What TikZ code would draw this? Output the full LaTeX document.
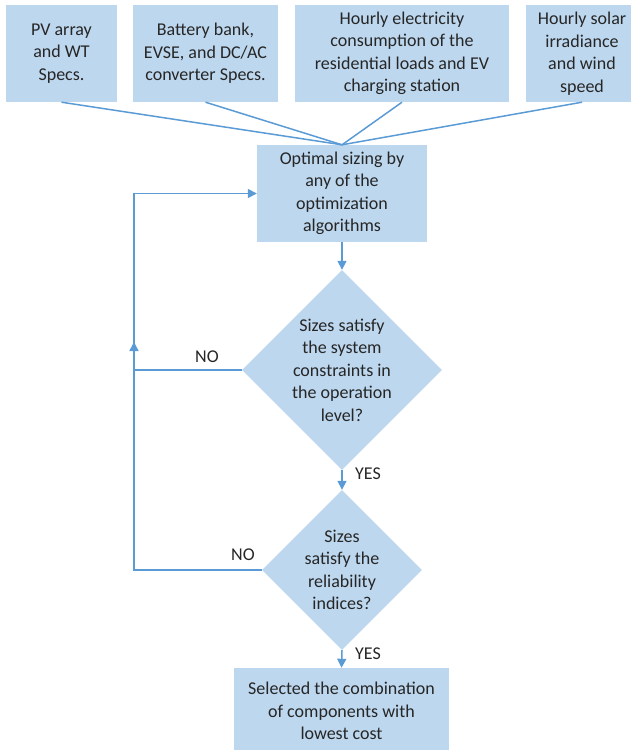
\documentclass[tikz,border=0pt]{standalone}
\usepackage{fontspec}
\setmainfont{Carlito}
\usetikzlibrary{shapes.geometric, positioning, arrows.meta}
\definecolor{boite}{HTML}{BDD7EE}
\definecolor{trait}{HTML}{5B9BD5}

\begin{document}
\begin{tikzpicture}[x=1pt, y=-1pt,
        bloc/.style={fill=boite, align=center, inner sep=0pt, text=black!85, font=\fontsize{18}{22.5}\selectfont},
        losange/.style={diamond, fill=boite, inner sep=0pt, minimum width=#1, minimum height=#1},
        texte/.style={align=center, inner sep=0pt, text=black!85, font=\fontsize{18}{22.5}\selectfont},
        ligne/.style={draw=trait, line width=1.5pt},
        fleche/.style={ligne, -{Triangle[width=9pt,length=9pt]}}]
        \useasboundingbox (0,0) rectangle (631,750);

        % Donnees d'entree
        \node[bloc, minimum width=111, minimum height=97] (b1) at (61.5,53.5) {PV array\\and WT\\Specs.};
        \node[bloc, minimum width=145, minimum height=97] (b2) at (205.5,53.5) {Battery bank,\\EVSE, and DC/AC\\converter Specs.};
        \node[bloc, minimum width=214, minimum height=97] (b3) at (402,53.5) {Hourly electricity\\consumption of the\\residential loads and EV\\charging station};
        \node[bloc, minimum width=112, minimum height=97] (b4) at (582,53.5) {Hourly solar\\irradiance\\and wind\\speed};

        \node[bloc, minimum width=170, minimum height=97] (opt) at (342,193.5) {Optimal sizing by\\any of the\\optimization\\algorithms};

        % Tests
        \node[losange=200] (d1) at (342,370) {};
        \node[texte] (t1) at (d1) {Sizes satisfy\\the system\\constraints in\\the operation\\level?};
        \node[losange=160] (d2) at (342,570) {};
        \node[texte] (t2) at (d2) {Sizes\\satisfy the\\reliability\\indices?};

        \node[bloc, minimum width=215, minimum height=86] (fin) at (341.5,711) {Selected the combination\\of components with\\lowest cost};

        \foreach \b in {b1,b2,b3,b4}
            \draw[ligne] (\b.south) -- (opt.north);

        \draw[fleche] (opt.south) -- (d1.north);
        \draw[fleche] (d1.south) -- (d2.north);
        \draw[fleche] (d2.south) -- (fin.north);

        \node[texte] (oui1) at (368,474) {YES};
        \node[texte] (oui2) at (368,654) {YES};
        \node[texte] (non1) at (207,357) {NO};
        \node[texte] (non2) at (243,555) {NO};

        % Boucle de retour
        \coordinate (retour) at (134,570);
        \coordinate (haut) at (134,342);
        \draw[ligne] (d1.west) -- (d1.west -| retour);
        \draw[fleche] (d2.west) -- (retour) |- (opt.west);
        \draw[fleche] (retour) -- (haut);
    \end{tikzpicture}
\end{document}
